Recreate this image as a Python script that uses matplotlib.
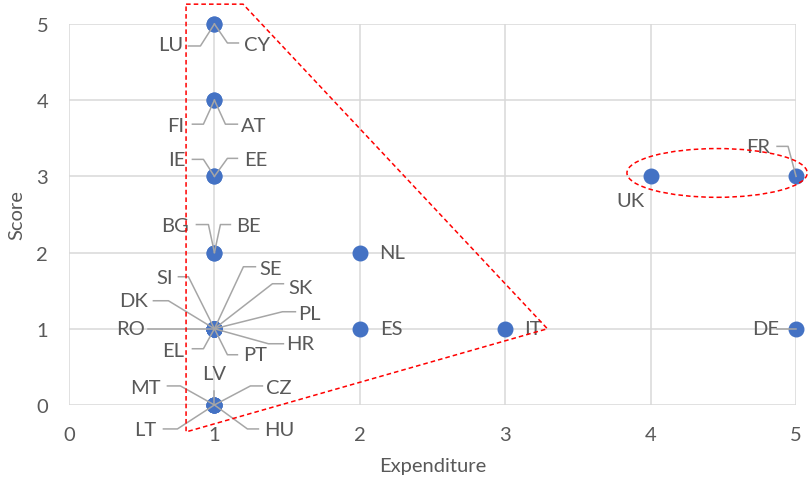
import matplotlib
matplotlib.use("Agg")
import matplotlib.pyplot as plt
from matplotlib.patches import Polygon, Ellipse

plt.rcParams['font.family'] = ['Lato', 'DejaVu Sans']

# country scores
countries = ['LU', 'CY', 'FI', 'AT', 'IE', 'EE', 'BG', 'BE', 'NL',
             'SE', 'SK', 'PL', 'HR', 'PT', 'EL', 'RO', 'DK', 'SI',
             'ES', 'IT', 'DE', 'UK', 'FR',
             'LV', 'MT', 'CZ', 'LT', 'HU']
expenditure = [1, 1, 1, 1, 1, 1, 1, 1, 2,
               1, 1, 1, 1, 1, 1, 1, 1, 1,
               2, 3, 5, 4, 5,
               1, 1, 1, 1, 1]
score = [5, 5, 4, 4, 3, 3, 2, 2, 2,
         1, 1, 1, 1, 1, 1, 1, 1, 1,
         1, 1, 1, 3, 3,
         0, 0, 0, 0, 0]

# label placement in pixels from the point (x right, y down):
# text centre, leader elbow, end of the short horizontal piece
label_pos = {
    'LU': ((-44, 21), (-14, 22), -26), 'CY': ((43, 21), (13, 19), 24),
    'FI': ((-39, 25), (-11, 24), -22), 'AT': ((39, 25), (11, 24), 23),
    'IE': ((-38, -17), (-11, -17), -22), 'EE': ((41, -17), (13, -18), 23),
    'BG': ((-39, -27), (-6, -28), -18), 'BE': ((34, -27), (6, -28), 16),
    'NL': ((32, 0), None, None),
    'SE': ((56, -60), (29, -62), 41), 'SK': ((86, -41), (58, -45), 69),
    'PL': ((95, -15), (68, -17), 81), 'HR': ((86, 15), (54, 15), 69),
    'PT': ((41, 26), (13, 26), 23), 'EL': ((-41, 22), (-11, 20), -22),
    'RO': ((-84, 0), (-66, 0), -66), 'DK': ((-81, -28), (-46, -28), -61),
    'SI': ((-50, -51), (-26, -52), -36),
    'ES': ((32, 0), None, None), 'IT': ((28, 0), None, None),
    'DE': ((-30, 0), (-6, 0), -19), 'UK': ((-20, 24), None, None),
    'FR': ((-38, -30), (-8, -30), -19),
    'LV': ((0, -31), (0, -14), 0), 'MT': ((-69, -17), (-34, -19), -47),
    'CZ': ((64, -17), (36, -19), 48), 'LT': ((-69, 25), (-37, 24), -51),
    'HU': ((65, 25), (33, 24), 44),
}

# highlight shapes (data units)
wedge = [(0.805, 5.26), (1.197, 5.26), (3.29, 1.0), (0.805, -0.354)]
ring_centre = (4.457, 3.045)
ring_w, ring_h = 1.24, 0.64

text_col = '#595959'
grid_col = '#d9d9d9'
lead_col = '#a6a6a6'
blue = '#4472c4'
fs = 14.5

fig = plt.figure(figsize=(8.09, 4.85), dpi=100)
ax = fig.add_axes([0.0853, 0.163, 0.8987, 0.7855])
ax.set_xlim(0, 5)
ax.set_ylim(0, 5)
ax.set_xticks(range(6))
ax.set_yticks(range(6))
for s in ax.spines.values():
    s.set_visible(False)
ax.grid(True, color=grid_col, lw=1.1, zorder=0)
ax.set_axisbelow(True)
ax.tick_params(length=0, labelsize=fs, colors=text_col, pad=15)
ax.tick_params(axis='y', pad=15)
ax.set_xlabel('Expenditure', fontsize=fs, color=text_col, labelpad=10)
ax.set_ylabel('Score', fontsize=fs, color=text_col, labelpad=8)

ax.scatter(expenditure, score, s=110, color=blue, zorder=3, clip_on=False)

to_data = ax.transData.inverted()


def px(x, y, dx, dy):
    bx, by = ax.transData.transform((x, y))
    return to_data.transform((bx + dx, by - dy))


for name, x, y in zip(countries, expenditure, score):
    (tx, ty), elbow, hx = label_pos[name]
    lx, ly = px(x, y, tx, ty)
    ax.text(lx, ly, name, ha='center', va='center', fontsize=fs,
            color=text_col, zorder=5, clip_on=False)
    if elbow is not None:
        ex, ey = px(x, y, elbow[0], elbow[1])
        hx_, hy_ = px(x, y, hx, elbow[1])
        ax.plot([x, ex, hx_], [y, ey, hy_], color=lead_col, lw=1.1,
                zorder=4, clip_on=False)

ax.add_patch(Polygon(wedge, closed=True, fill=False, ec='#ff0000', lw=1.1,
                     ls=(0, (3, 2)), zorder=6, clip_on=False))
ax.add_patch(Ellipse(ring_centre, ring_w, ring_h, fill=False, ec='#ff0000',
                     lw=1.1, ls=(0, (3, 2)), zorder=6, clip_on=False))

fig.savefig('out.png', dpi=100)
